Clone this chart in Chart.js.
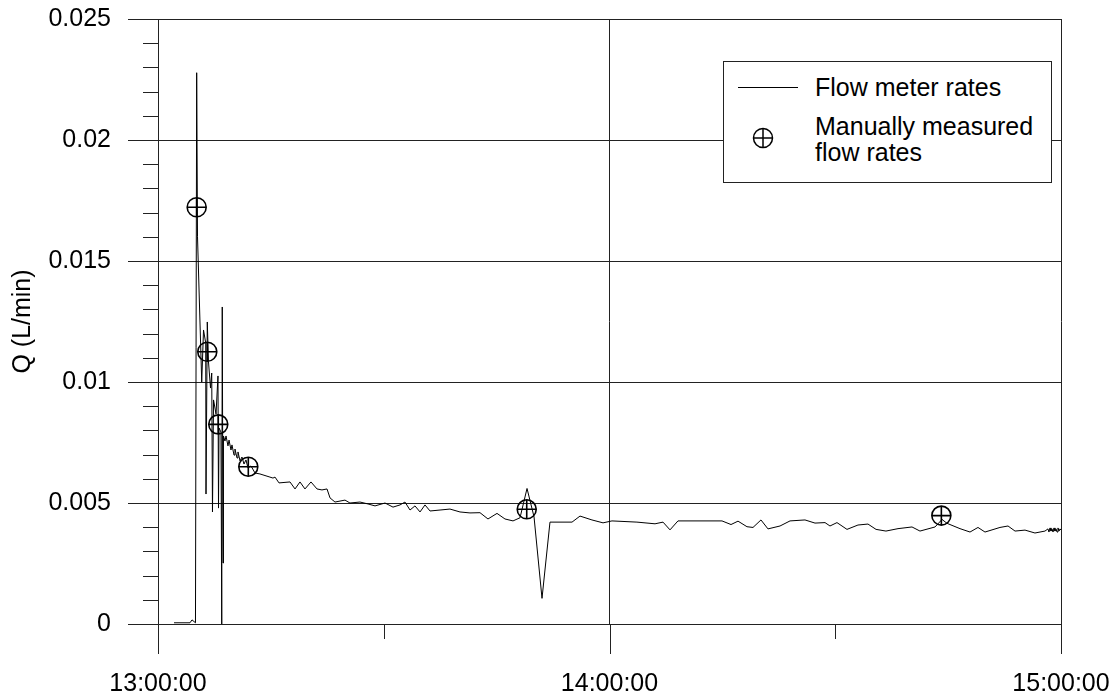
<!DOCTYPE html>
<html>
<head>
<meta charset="utf-8">
<title>Flow rates</title>
<script src="https://cdn.jsdelivr.net/npm/chart.js@4.4.1/dist/chart.umd.min.js"></script>
<style>
  html, body { margin: 0; padding: 0; background: #fff; }
  #wrap { position: relative; width: 1118px; height: 700px; }
  #legend {
    position: absolute; left: 723px; top: 61px; width: 327px; height: 120px;
    border: 1px solid #222; background: #fff; color: #000;
    font-family: "Liberation Sans", Arial, sans-serif; font-size: 25px; line-height: 26px;
  }
  #legend .sample { position: absolute; left: 14px; top: 25px; width: 60px; border-top: 1px solid #000; }
  #legend .txt { position: absolute; left: 91px; white-space: nowrap; }
  #legend svg { position: absolute; left: 27px; top: 64px; }
</style>
</head>
<body>
<div id="wrap">
  <canvas id="chart" width="1118" height="700"></canvas>
  <div id="legend">
    <div class="sample"></div>
    <div class="txt" style="top:12px">Flow meter rates</div>
    <svg width="24" height="24" viewBox="0 0 24 24">
      <circle cx="12" cy="12" r="9.5" fill="none" stroke="#000" stroke-width="1.5"/>
      <line x1="2.5" y1="12" x2="21.5" y2="12" stroke="#000" stroke-width="1.5"/>
      <line x1="12" y1="2.5" x2="12" y2="21.5" stroke="#000" stroke-width="1.5"/>
    </svg>
    <div class="txt" style="top:51px">Manually measured<br>flow rates</div>
  </div>
</div>
<script>
// time in minutes after 13:00:00, rates in L/min
const flowMinutes = [
  2.13, 4.25, 4.52, 4.98, 5.14, 5.25, 5.81, 6.05, 6.34, 6.38,
  6.55, 6.71, 6.98, 7.14, 7.24, 7.38, 7.71, 7.97, 8.04, 8.11,
  8.37, 8.47, 8.54, 8.64, 8.70, 8.90, 9.04, 9.30, 9.44, 9.70,
  9.83, 10.10, 10.23, 10.50, 10.63, 10.90, 11.16, 11.43, 11.69, 11.96,
  12.36, 12.89, 13.55, 14.88, 15.28, 15.55, 16.08, 17.54, 18.21, 18.87,
  19.53, 20.33, 21.13, 21.79, 22.46, 22.86, 23.52, 24.85, 25.51, 26.84,
  27.91, 28.84, 30.17, 31.23, 32.16, 32.82, 33.49, 34.15, 34.82, 35.48,
  36.15, 37.48, 38.80, 40.13, 41.46, 42.79, 43.85, 45.05, 46.11, 47.18,
  48.11, 49.04, 49.97, 51.03, 52.09, 55.02, 56.08, 57.67, 59.14, 60.33,
  63.65, 66.05, 67.11, 68.04, 69.10, 74.95, 76.15, 77.08, 78.27, 79.07,
  80.13, 81.06, 82.66, 83.99, 85.98, 87.31, 88.64, 89.30, 90.23, 91.56,
  93.02, 94.35, 95.42, 96.74, 98.34, 100.20, 101.26, 103.26, 104.19, 104.85,
  106.58, 107.91, 108.97, 109.90, 111.89, 112.96, 113.89, 115.22, 116.54, 117.87,
  118.27, 118.40, 118.54, 118.67, 118.80, 118.94, 119.07, 119.20, 119.34, 119.47,
  119.60, 119.74, 119.87, 120.00
];
const flowRates = [
  0.00005, 0.00005, 0.00017, 0.00005, 0.02278, 0.01600, 0.01000, 0.01215, 0.01161, 0.00537,
  0.01248, 0.01083, 0.00975, 0.01037, 0.00463, 0.00926, 0.00868, 0.01025, 0.00479, 0.00810,
  0.00793, 0.00000, 0.01310, 0.00252, 0.00777, 0.00756, 0.00777, 0.00736, 0.00760, 0.00719,
  0.00740, 0.00698, 0.00723, 0.00686, 0.00711, 0.00674, 0.00690, 0.00661, 0.00678, 0.00645,
  0.00653, 0.00624, 0.00620, 0.00607, 0.00603, 0.00607, 0.00583, 0.00587, 0.00558, 0.00587,
  0.00558, 0.00587, 0.00558, 0.00554, 0.00558, 0.00521, 0.00504, 0.00512, 0.00500, 0.00504,
  0.00496, 0.00488, 0.00500, 0.00483, 0.00492, 0.00504, 0.00471, 0.00488, 0.00463, 0.00492,
  0.00467, 0.00471, 0.00475, 0.00463, 0.00459, 0.00460, 0.00434, 0.00457, 0.00434, 0.00426,
  0.00439, 0.00560, 0.00443, 0.00106, 0.00421, 0.00421, 0.00446, 0.00430, 0.00418, 0.00426,
  0.00421, 0.00414, 0.00421, 0.00389, 0.00426, 0.00426, 0.00411, 0.00425, 0.00402, 0.00399,
  0.00430, 0.00393, 0.00405, 0.00426, 0.00430, 0.00417, 0.00419, 0.00405, 0.00419, 0.00391,
  0.00409, 0.00413, 0.00391, 0.00384, 0.00394, 0.00401, 0.00384, 0.00401, 0.00432, 0.00416,
  0.00394, 0.00380, 0.00399, 0.00380, 0.00399, 0.00405, 0.00384, 0.00388, 0.00376, 0.00384,
  0.00393, 0.00380, 0.00397, 0.00384, 0.00393, 0.00380, 0.00397, 0.00384, 0.00393, 0.00380,
  0.00397, 0.00384, 0.00393, 0.00388
];

const manualMinutes = [5.14, 6.55, 8.01, 12.0, 49.0, 104.1];
const manualRates = [0.01722, 0.01125, 0.00825, 0.0065, 0.00474, 0.00448];

const timeTickLabels = ['13:00:00', '14:00:00', '15:00:00'];

const AXIS = '#222';
Chart.defaults.font.family = '"Liberation Sans", Arial, sans-serif';
Chart.defaults.font.size = 25;
Chart.defaults.color = '#000';

const isMajorRate = (v) => Math.abs(v / 0.005 - Math.round(v / 0.005)) < 1e-6;
const isMajorTime = (v) => v % 60 === 0;

const flowPoints = flowMinutes.map((t, i) => ({ x: t, y: flowRates[i] }));
const manualPoints = manualMinutes.map((t, i) => ({ x: t, y: manualRates[i] }));

// tick marks drawn outside the plot frame: long at labelled values, short in between
const outerTicks = {
  id: 'outerTicks',
  afterDraw(chart) {
    const { ctx, chartArea: a, scales: { x, y } } = chart;
    ctx.save();
    ctx.strokeStyle = AXIS;
    ctx.lineWidth = 1;
    ctx.beginPath();
    y.ticks.forEach((t) => {
      const py = Math.round(y.getPixelForValue(t.value)) + 0.5;
      const len = isMajorRate(t.value) ? 30 : 15;
      ctx.moveTo(a.left - len, py);
      ctx.lineTo(a.left, py);
    });
    x.ticks.forEach((t) => {
      const px = Math.round(x.getPixelForValue(t.value)) + 0.5;
      const len = isMajorTime(t.value) ? 30 : 15;
      ctx.moveTo(px, a.bottom);
      ctx.lineTo(px, a.bottom + len);
    });
    ctx.stroke();
    ctx.restore();
  },
};

new Chart(document.getElementById('chart'), {
  type: 'scatter',
  data: {
    datasets: [
      {
        label: 'Manually measured flow rates',
        data: manualPoints,
        pointStyle: 'circle',
        pointRadius: 9.5,
        borderColor: '#000',
        borderWidth: 1.6,
        backgroundColor: 'transparent',
      },
      {
        data: manualPoints,
        pointStyle: 'cross',
        pointRadius: 9.5,
        borderColor: '#000',
        borderWidth: 1.6,
      },
      {
        label: 'Flow meter rates',
        data: flowPoints,
        showLine: true,
        borderColor: '#000',
        borderWidth: 1,
        pointRadius: 0,
        tension: 0,
      },
    ],
  },
  options: {
    responsive: false,
    animation: false,
    events: [],
    layout: { padding: { top: 19, right: 57, bottom: 0, left: 0 } },
    plugins: { legend: { display: false }, tooltip: { enabled: false } },
    scales: {
      x: {
        type: 'linear',
        min: 0,
        max: 120,
        afterFit: (s) => {
          s.height = 76;
          s.paddingLeft = 0;
          s.paddingRight = 0;
        },
        border: { color: AXIS, width: 1 },
        grid: {
          drawTicks: false,
          color: (c) => (c.tick && (c.tick.value === 60 || c.tick.value === 120) ? AXIS : 'transparent'),
        },
        ticks: {
          stepSize: 30,
          autoSkip: false,
          maxRotation: 0,
          padding: 45,
          callback: (v) => (isMajorTime(v) ? timeTickLabels[v / 60] : ''),
        },
      },
      y: {
        min: 0,
        max: 0.025,
        afterFit: (s) => {
          s.width = 158;
          s.paddingTop = 0;
          s.paddingBottom = 0;
        },
        border: { color: AXIS, width: 1 },
        grid: {
          drawTicks: false,
          color: (c) => (c.tick && c.tick.value > 0 && isMajorRate(c.tick.value) ? AXIS : 'transparent'),
        },
        ticks: {
          stepSize: 0.001,
          maxTicksLimit: 30,
          autoSkip: false,
          padding: 47,
          callback: (v) => (isMajorRate(v) ? String(parseFloat(v.toFixed(3))) : ''),
        },
        title: {
          display: true,
          text: 'Q (L/min)',
          padding: { top: 8, bottom: 0 },
        },
      },
    },
  },
  plugins: [outerTicks],
});
</script>
</body>
</html>
